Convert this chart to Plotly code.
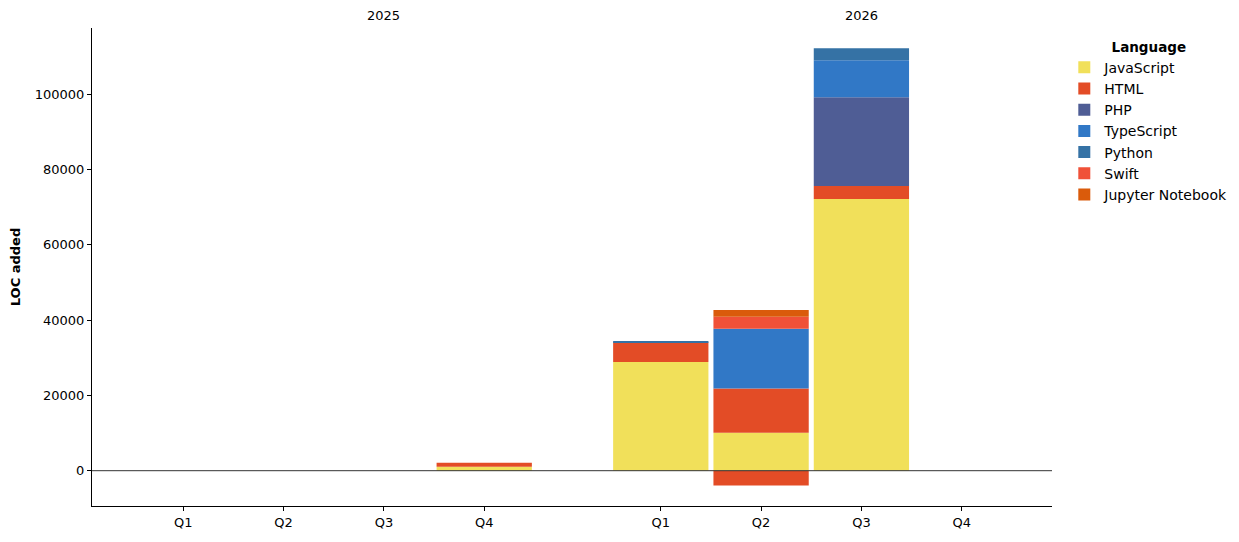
import plotly.graph_objects as go

# ---- data ----
years = ["2025", "2026"]
quarters = ["Q1", "Q2", "Q3", "Q4"]

languages = ["JavaScript", "HTML", "PHP", "TypeScript", "Python", "Swift", "Jupyter Notebook"]
colors = {
    "JavaScript": "#f1e05a",
    "HTML": "#e34c26",
    "PHP": "#4F5D95",
    "TypeScript": "#3178c6",
    "Python": "#3572A5",
    "Swift": "#F05138",
    "Jupyter Notebook": "#DA5B0B",
}

# values per period: 2025 Q1..Q4, 2026 Q1..Q4
javascript = [0, 0, 0, 1050, 28900, 10100, 72150, 0]
html = [0, 0, 0, 1050, 5200, 11750, 3450, 0]
html_removed = [0, 0, 0, 0, 0, -3950, 0, 0]
php = [0, 0, 0, 0, 0, 0, 23600, 0]
typescript = [0, 0, 0, 0, 0, 15830, 9800, 0]
python = [0, 0, 0, 0, 350, 0, 3180, 0]
swift = [0, 0, 0, 0, 0, 3180, 0, 0]
jupyter = [0, 0, 0, 0, 0, 1850, 0, 0]

series = {
    "JavaScript": javascript,
    "HTML": html,
    "PHP": php,
    "TypeScript": typescript,
    "Python": python,
    "Swift": swift,
    "Jupyter Notebook": jupyter,
}

# ---- positions (layout) ----
GROUP_GAP = 0.76
positions = []
labels = []
for yi, y in enumerate(years):
    for qi, q in enumerate(quarters):
        positions.append(qi + yi * (len(quarters) + GROUP_GAP))
        labels.append(q)

FONT = "DejaVu Sans"

fig = go.Figure()
for lang in languages:
    fig.add_trace(go.Bar(
        x=positions, y=series[lang], name=lang,
        marker=dict(color=colors[lang], line=dict(width=0)),
        legendgroup=lang,
    ))
fig.add_trace(go.Bar(
    x=positions, y=html_removed, name="HTML",
    marker=dict(color=colors["HTML"], line=dict(width=0)),
    legendgroup="HTML", showlegend=False,
))

# year labels on top
for yi, y in enumerate(years):
    grp = positions[yi * len(quarters):(yi + 1) * len(quarters)]
    fig.add_annotation(x=grp[2], y=1.0, xref="x", yref="paper", yanchor="bottom",
                       yshift=3, text=y, showarrow=False,
                       font=dict(family=FONT, size=13, color="black"))

# zero line above bars
fig.add_shape(type="line", xref="paper", yref="y", x0=0, x1=1, y0=0, y1=0,
              line=dict(color="#333333", width=1), layer="above")

fig.update_layout(
    width=1239, height=542,
    margin=dict(l=92, r=187, t=28, b=34),
    barmode="relative", bargap=0.05,
    plot_bgcolor="white", paper_bgcolor="white",
    font=dict(family=FONT, size=13, color="black"),
    showlegend=True,
    legend=dict(
        title=dict(text="<b>Language</b>", side="top center", font=dict(size=13.5)),
        xref="container", yref="container",
        x=0.859, xanchor="left", y=0.937, yanchor="top",
        traceorder="normal", font=dict(size=14),
        bgcolor="rgba(0,0,0,0)",
    ),
    xaxis=dict(
        range=[-0.91, 8.66], tickmode="array", tickvals=positions, ticktext=labels,
        showline=True, linecolor="black", linewidth=1, ticks="outside",
        ticklen=4, tickwidth=1, tickcolor="black", showgrid=False, zeroline=False,
        mirror=False,
    ),
    yaxis=dict(
        range=[-9375, 117585], tickmode="array",
        tickvals=[0, 20000, 40000, 60000, 80000, 100000], tickformat="d",
        showline=True, linecolor="black", linewidth=1, ticks="outside",
        ticklen=4, tickwidth=1, tickcolor="black", showgrid=False, zeroline=False,
        title=dict(text="<b>LOC added</b>", standoff=11, font=dict(size=13)),
    ),
)

fig.write_html("out.html")
